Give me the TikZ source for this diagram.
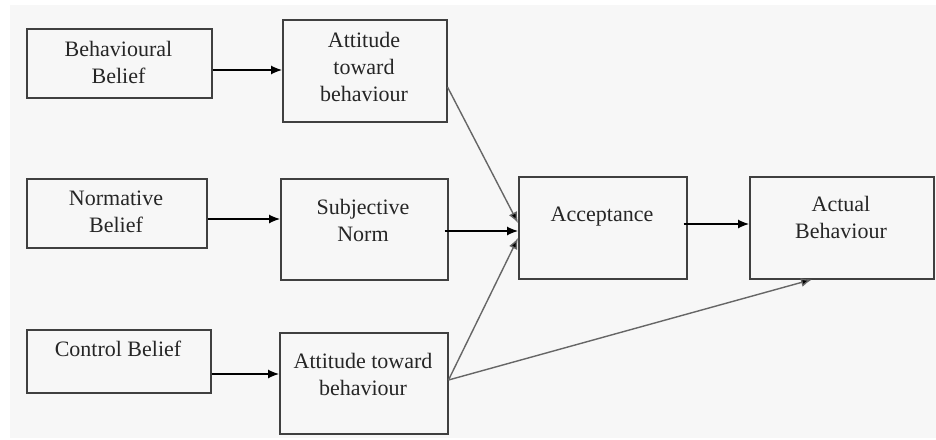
\documentclass[tikz,border=0pt]{standalone}
\usepackage{fontspec}
\setmainfont{Liberation Serif}
\newfontfamily\tms{Liberation Serif}
\usetikzlibrary{arrows.meta}
\tikzset{
  box/.style={draw=black!75, line width=1.5pt, rectangle, inner sep=0pt, anchor=north west},
  lbl/.style={align=center, font=\tms\fontsize{22}{27}\selectfont, inner sep=0pt, text=black!85},
  harrow/.style={line width=1.2pt, -{Latex[length=11pt,width=9pt]}},
  darrow/.style={draw=black!60, line width=1.4pt, -{Latex[length=11pt,width=9pt,fill=black]}},
}
\begin{document}
\begin{tikzpicture}[x=1pt,y=-1pt]
\useasboundingbox (0,0) rectangle (936,439);
\fill[black!3] (10,5) rectangle (936,438);
% boxes
\node[box, minimum width=185pt, minimum height=69pt] (bb) at (26,28) {};
\node[box, minimum width=164pt, minimum height=102pt] (at1) at (282,19) {};
\node[box, minimum width=180pt, minimum height=69pt] (nb) at (26,178) {};
\node[box, minimum width=167pt, minimum height=101pt] (sn) at (280,178) {};
\node[box, minimum width=184pt, minimum height=63pt] (cb) at (26,329) {};
\node[box, minimum width=168pt, minimum height=101pt] (at2) at (279,332) {};
\node[box, minimum width=168pt, minimum height=102pt] (acc) at (518,176) {};
\node[box, minimum width=184pt, minimum height=102pt] (ab) at (749,176) {};
% labels
\node[lbl] (tbb) at (118.5,62) {Behavioural\\Belief};
\node[lbl] (tat1) at (364,67) {Attitude\\toward\\behaviour};
\node[lbl] (tnb) at (116,212) {Normative\\Belief};
\node[lbl] (tsn) at (363,220) {Subjective\\Norm};
\node[lbl] (tcb) at (118,349) {Control Belief};
\node[lbl] (tat2) at (363,374) {Attitude toward\\behaviour};
\node[lbl] (tacc) at (602,217) {Acceptance};
\node[lbl] (tab) at (841,217.5) {Actual\\Behaviour};
% arrows
\draw[harrow] (bb.east |- 0,70) -- (at1.west |- 0,70);
\draw[harrow] (nb.east |- 0,219) -- (sn.west |- 0,219);
\draw[harrow] (cb.east |- 0,374) -- (at2.west |- 0,374);
\draw[harrow] (acc.east |- 0,224) ++(-4,0) -- (ab.west |- 0,224);
\draw[darrow] (at1.east |- 0,87) -- (acc.west |- 0,223);
\draw[harrow] (sn.east |- 0,231) ++(-4,0) -- (acc.west |- 0,231);
\draw[darrow] (at2.east |- 0,380) -- (acc.west |- 0,238);
\draw[darrow] (at2.east |- 0,380) -- (ab.south -| 812,0);
\end{tikzpicture}
\end{document}
